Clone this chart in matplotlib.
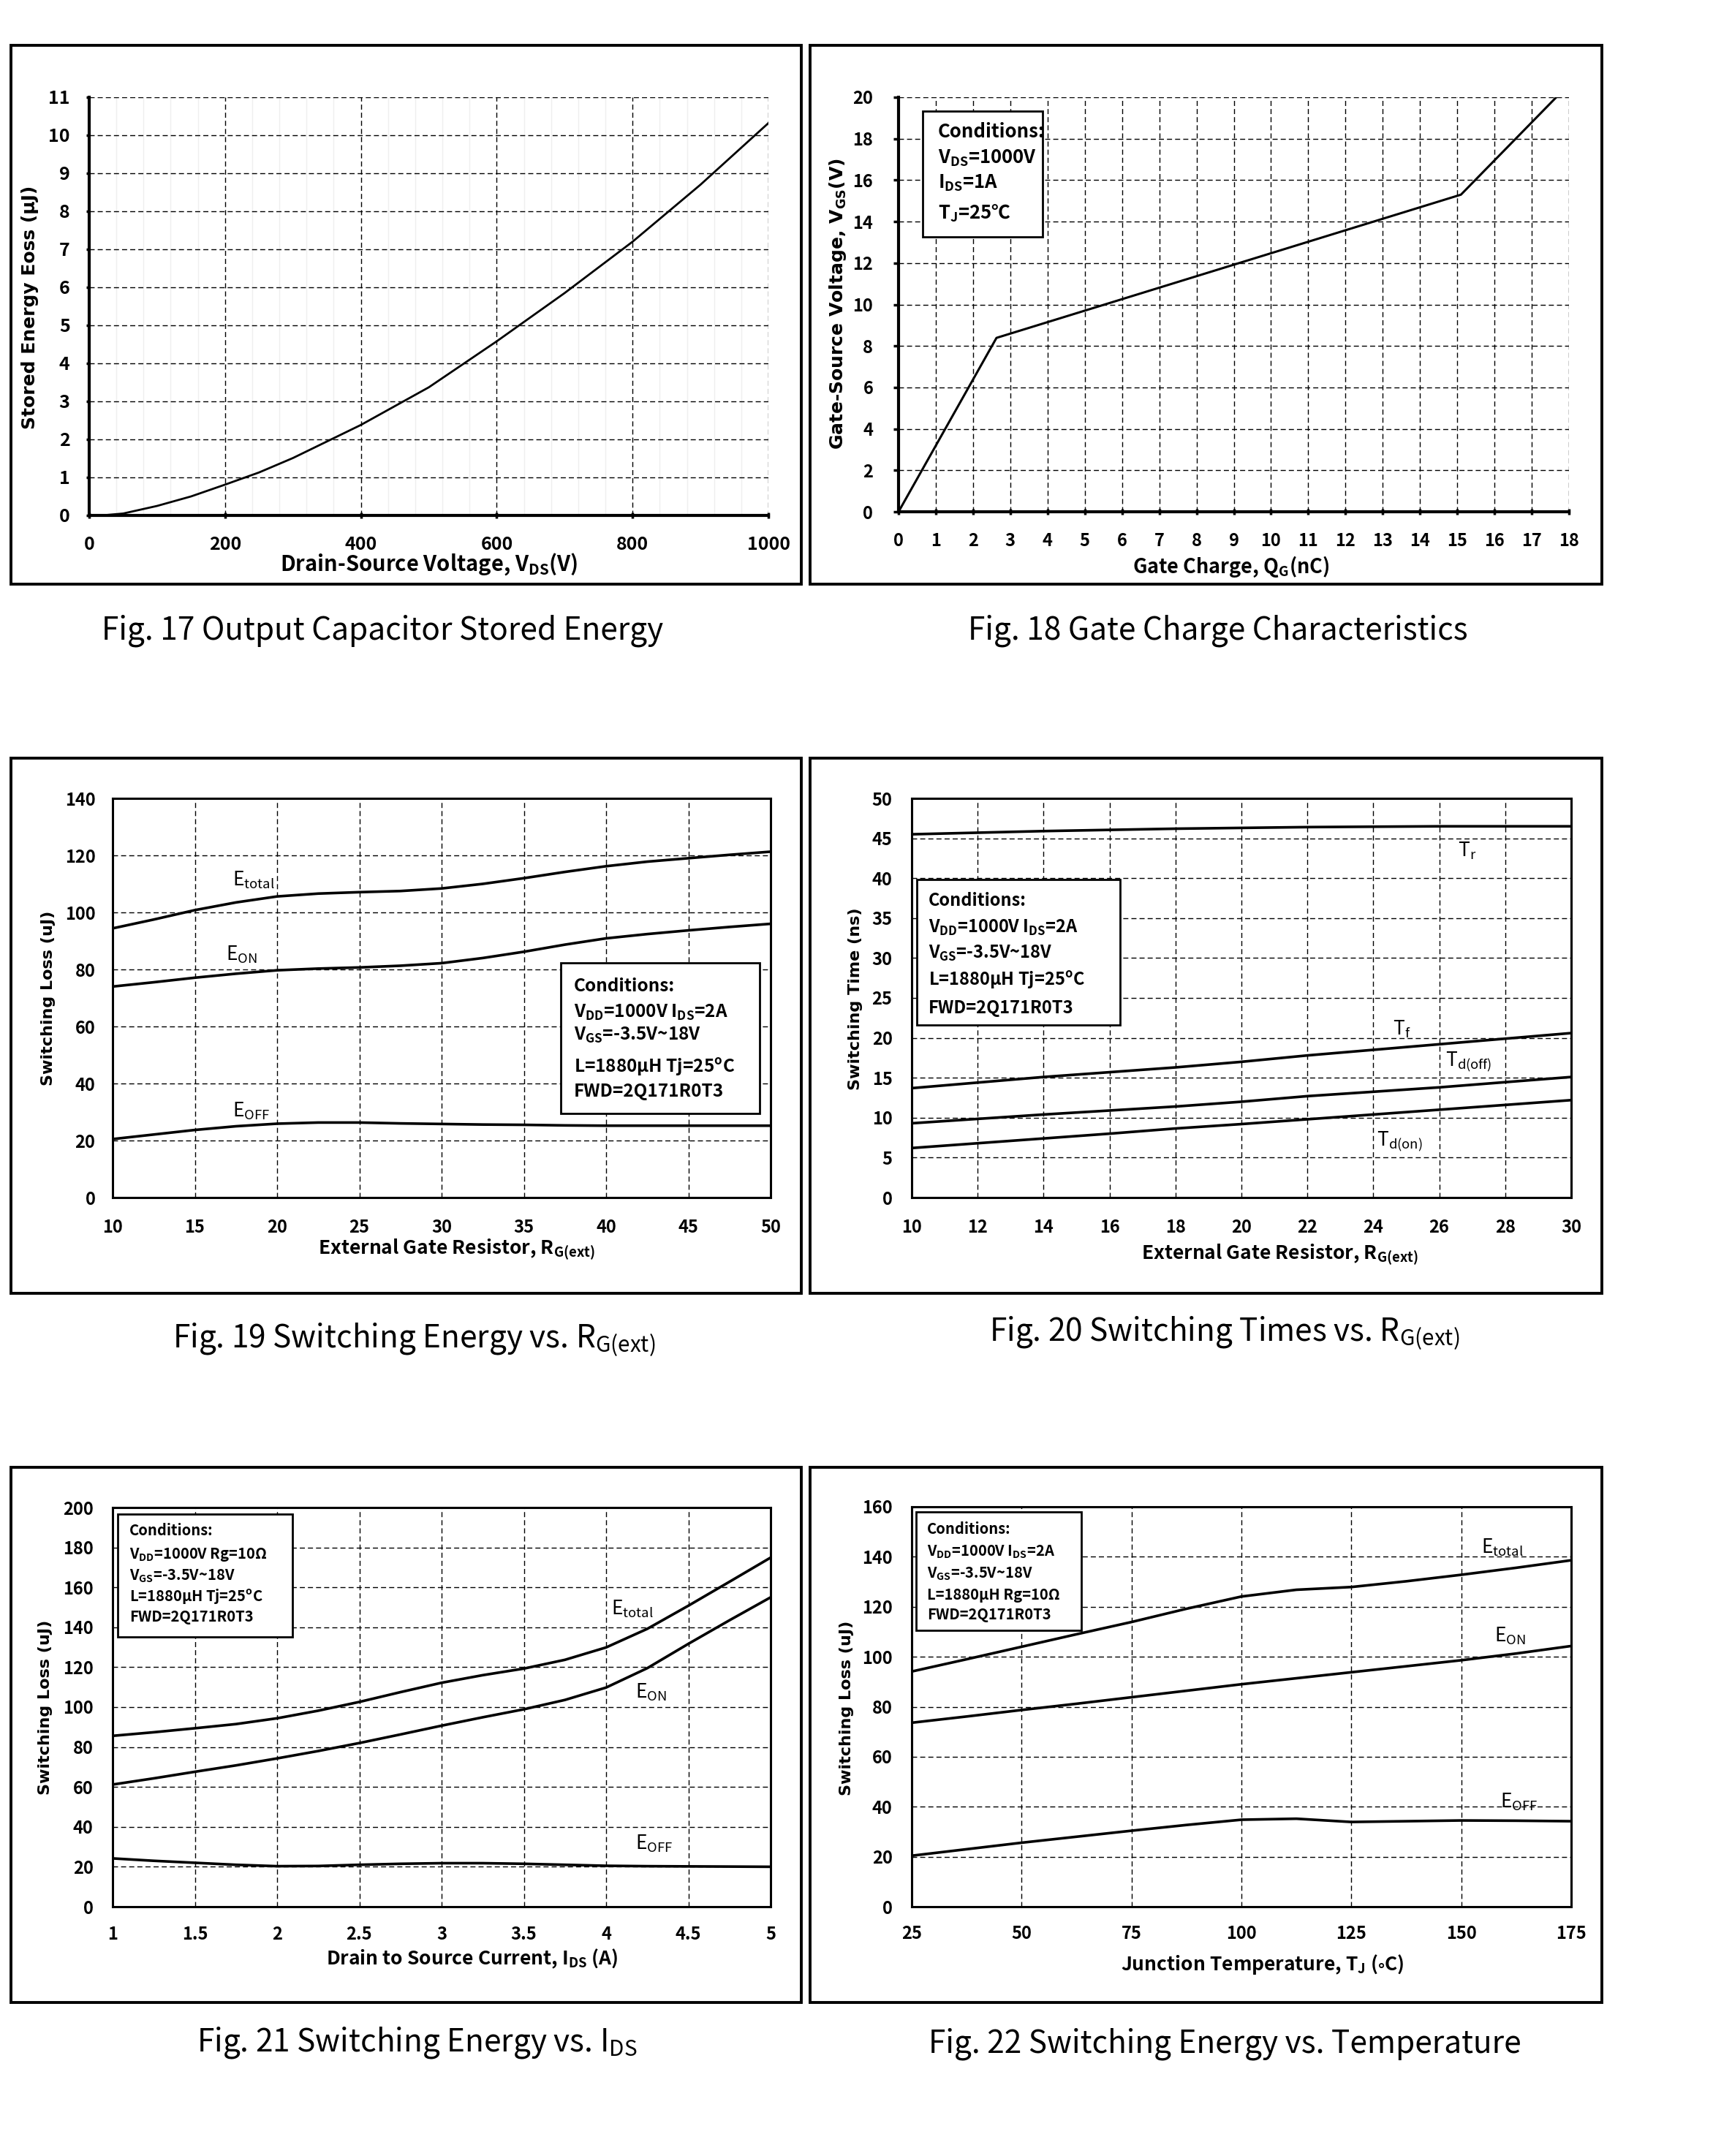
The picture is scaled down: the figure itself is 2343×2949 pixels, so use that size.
import matplotlib
matplotlib.use('Agg')
import matplotlib.pyplot as plt
from matplotlib.font_manager import FontProperties
from matplotlib.patches import Rectangle
import numpy as np

plt.rcParams['mathtext.default'] = 'regular'

W, H = 2343, 2949
SANS = ['Noto Sans CJK SC', 'DejaVu Sans']
WIDE = ['DejaVu Sans']

# ---- Fig. 17 : Eoss vs VDS ----
vds = [0, 25, 50, 100, 150, 200, 250, 300, 400, 500, 600, 700, 800, 900, 1000]
eoss = [0, 0.01, 0.05, 0.25, 0.5, 0.81, 1.13, 1.51, 2.38, 3.37, 4.58, 5.85, 7.2, 8.7, 10.32]
vds_ticks = [0, 200, 400, 600, 800, 1000]
eoss_ticks = list(range(0, 12))

# ---- Fig. 18 : gate charge ----
qg = [0, 2.63, 15.1, 17.66]
vgs = [0, 8.39, 15.3, 20]
qg_ticks = list(range(0, 19))
vgs_ticks = list(range(0, 21, 2))

# ---- Fig. 19 : switching energy vs Rg ----
rg = [10, 12.5, 15, 17.5, 20, 22.5, 25, 27.5, 30, 32.5, 35, 37.5, 40, 42.5, 45, 47.5, 50]
rg_etotal = [94.4, 97.5, 100.8, 103.5, 105.6, 106.6, 107.1, 107.5, 108.4, 110, 112, 114.2, 116.2, 117.8, 119, 120.2, 121.3]
rg_eon = [74, 75.5, 77.1, 78.5, 79.7, 80.3, 80.7, 81.3, 82.2, 84, 86.2, 88.7, 90.9, 92.4, 93.7, 94.9, 96]
rg_eoff = [20.5, 22.1, 23.7, 25, 25.9, 26.3, 26.3, 26, 25.8, 25.6, 25.5, 25.3, 25.2, 25.2, 25.2, 25.2, 25.2]
rg_ticks = list(range(10, 51, 5))
e19_ticks = list(range(0, 141, 20))

# ---- Fig. 20 : switching times vs Rg ----
rg_t = [10, 12, 14, 16, 18, 20, 22, 24, 26, 28, 30]
t_r = [45.5, 45.7, 45.9, 46.05, 46.2, 46.3, 46.4, 46.45, 46.5, 46.5, 46.5]
t_f = [13.7, 14.4, 15.1, 15.7, 16.3, 17.0, 17.8, 18.5, 19.2, 19.9, 20.6]
t_doff = [9.3, 9.85, 10.4, 10.9, 11.4, 12.0, 12.7, 13.25, 13.8, 14.45, 15.1]
t_don = [6.2, 6.8, 7.4, 8.0, 8.65, 9.2, 9.8, 10.4, 11.0, 11.6, 12.2]
rgt_ticks = list(range(10, 31, 2))
t_ticks = list(range(0, 51, 5))

# ---- Fig. 21 : switching energy vs IDS ----
ids = [1, 1.25, 1.5, 1.75, 2, 2.25, 2.5, 2.75, 3, 3.25, 3.5, 3.75, 4, 4.25, 4.5, 4.75, 5]
ids_etotal = [85.6, 87.4, 89.4, 91.5, 94.4, 98.2, 102.6, 107.5, 112.2, 116, 119.3, 123.7, 129.9, 139.2, 150.8, 162.8, 174.9]
ids_eon = [61.2, 64.3, 67.6, 70.8, 74.3, 78, 82, 86.3, 90.7, 94.9, 98.9, 103.6, 109.8, 119.5, 131.7, 143.5, 155]
ids_eoff = [24.2, 23.0, 22.0, 21.0, 20.3, 20.4, 21.0, 21.5, 21.8, 21.8, 21.5, 21.0, 20.5, 20.3, 20.2, 20.1, 20.0]
ids_ticks = [1, 1.5, 2, 2.5, 3, 3.5, 4, 4.5, 5]
e21_ticks = list(range(0, 201, 20))

# ---- Fig. 22 : switching energy vs Tj ----
tj = [25, 37.5, 50, 62.5, 75, 87.5, 100, 112.5, 125, 137.5, 150, 162.5, 175]
tj_etotal = [94.1, 99, 104, 109, 113.9, 119.2, 124.1, 126.8, 127.9, 130.2, 132.8, 135.6, 138.6]
tj_eon = [73.6, 76.1, 78.7, 81.2, 83.8, 86.4, 89, 91.4, 93.8, 96.2, 98.6, 101.3, 104.3]
tj_eoff = [20.4, 23.0, 25.6, 28.0, 30.4, 32.7, 34.8, 35.2, 33.9, 34.2, 34.5, 34.4, 34.2]
tj_ticks = list(range(25, 176, 25))
e22_ticks = list(range(0, 161, 20))

fig = plt.figure(figsize=(W / 100, H / 100), dpi=100)


def sub(s):
    return r'$_\mathregular{' + s + '}$'


def fp(size, family=SANS, weight='bold'):
    return FontProperties(family=family, weight=weight, size=size)


def add_axes_px(x0, y0, x1, y1):
    return fig.add_axes([x0 / W, 1 - y1 / H, (x1 - x0) / W, (y1 - y0) / H])


def ftext(x, y, s, size, family=SANS, weight='bold', rot=0, ha='center', va='center'):
    return fig.text(x / W, 1 - y / H, s, fontproperties=fp(size, family, weight),
                    rotation=rot, ha=ha, va=va, zorder=7)


def rect_px(x0, y0, x1, y1, lw, fill, z):
    r = Rectangle((x0 / W, 1 - y1 / H), (x1 - x0) / W, (y1 - y0) / H,
                  transform=fig.transFigure, fill=fill, fc='white', ec='black', lw=lw, zorder=z)
    fig.add_artist(r)


def cond_box(box, x, baselines, lines, size):
    rect_px(*box, lw=2.0, fill=True, z=5)
    for yb, s in zip(baselines, lines):
        ftext(x, yb, s, size, ha='left', va='baseline')


def ticks(ax, xt, yt, size, xpad, ypad):
    f = fp(size)
    ax.set_xticks(xt, [f'{v:g}' for v in xt], fontproperties=f)
    ax.set_yticks(yt, [f'{v:g}' for v in yt], fontproperties=f)
    ax.tick_params(axis='x', pad=xpad)
    ax.tick_params(axis='y', pad=ypad)


def grid(ax):
    ax.set_axisbelow(True)
    ax.grid(True, which='major', color='black', lw=1.0, ls=(0, (5, 3)))


def boxed_axes(ax):
    for sp in ax.spines.values():
        sp.set_linewidth(2.2)
    ax.tick_params(length=0)


def caption(x, y, s):
    ftext(x, y, s, 30.5, weight='medium')


# panel frames
for fr in [(15, 62, 1096, 799), (1108, 62, 2191, 799),
           (15, 1037, 1096, 1769), (1108, 1037, 2191, 1769),
           (15, 2007, 1096, 2739), (1108, 2007, 2191, 2739)]:
    rect_px(*fr, lw=2.8, fill=False, z=1)

lf = fp(19, weight='medium')

# ================= Fig. 17 =================
ax = add_axes_px(122, 133, 1051, 705)
ax.plot(vds, eoss, color='black', lw=2.0, zorder=3)
ax.set_xlim(0, 1000)
ax.set_ylim(0, 11)
ticks(ax, vds_ticks, eoss_ticks, 18, 17, 16)
ax.set_xticks(np.arange(0, 1001, 40), minor=True)
ax.grid(True, which='minor', axis='x', color='#efefef', lw=1.0)
grid(ax)
for s in ['top', 'right']:
    ax.spines[s].set_visible(False)
for s in ['left', 'bottom']:
    ax.spines[s].set_linewidth(3.0)
ax.tick_params(axis='y', direction='out', length=3, width=2.5)
ax.tick_params(axis='x', which='major', direction='inout', length=6, width=2.5)
ax.tick_params(which='minor', length=0)
ftext(41, 420, 'Stored Energy Eoss (μJ)', 18, family=WIDE, rot=90)
ftext(587, 772, 'Drain-Source Voltage, V' + sub('DS') + '(V)', 21)
caption(523, 863, 'Fig. 17 Output Capacitor Stored Energy')

# ================= Fig. 18 =================
ax = add_axes_px(1229, 133, 2146, 700)
ax.plot(qg, vgs, color='black', lw=2.2, zorder=3)
ax.set_xlim(0, 18)
ax.set_ylim(0, 20)
ticks(ax, qg_ticks, vgs_ticks, 17, 17, 20)
grid(ax)
for s in ['top', 'right']:
    ax.spines[s].set_visible(False)
for s in ['left', 'bottom']:
    ax.spines[s].set_linewidth(3.0)
ax.tick_params(axis='y', direction='out', length=5, width=2.5)
ax.tick_params(axis='x', direction='inout', length=6, width=2.5)
ftext(1146, 416, 'Gate-Source Voltage, V' + sub('GS') + '(V)', 18, family=WIDE, rot=90)
ftext(1684, 775, 'Gate Charge, Q' + sub('G') + '(nC)', 19.5)
cond_box((1262, 152, 1426, 324), 1283, [188, 223, 258, 299],
         ['Conditions:', 'V' + sub('DS') + '=1000V', 'I' + sub('DS') + '=1A', 'T' + sub('J') + '=25℃'], 18.5)
caption(1666, 863, 'Fig. 18 Gate Charge Characteristics')

# ================= Fig. 19 =================
ax = add_axes_px(154, 1092, 1054, 1638)
for yv in (rg_etotal, rg_eon, rg_eoff):
    ax.plot(rg, yv, color='black', lw=2.6, zorder=3)
ax.set_xlim(10, 50)
ax.set_ylim(0, 140)
ticks(ax, rg_ticks, e19_ticks, 17, 21, 17)
grid(ax)
boxed_axes(ax)
ax.text(17.3, 109.4, 'E' + sub('total'), fontproperties=lf, va='baseline')
ax.text(16.9, 83.3, 'E' + sub('ON'), fontproperties=lf, va='baseline')
ax.text(17.3, 28.4, 'E' + sub('OFF'), fontproperties=lf, va='baseline')
ftext(66, 1365, 'Switching Loss (uJ)', 16, family=WIDE, rot=90)
ftext(624, 1709, 'External Gate Resistor, R' + sub('G(ext)'), 19)
cond_box((767, 1317, 1039, 1523), 785, [1356, 1392, 1423, 1467, 1500],
         ['Conditions:', 'V' + sub('DD') + '=1000V I' + sub('DS') + '=2A',
          'V' + sub('GS') + '=-3.5V~18V', 'L=1880μH Tj=25$^\\mathregular{o}$C', 'FWD=2Q171R0T3'], 17.5)
caption(566, 1833, 'Fig. 19 Switching Energy vs. R' + sub('G(ext)'))

# ================= Fig. 20 =================
ax = add_axes_px(1247, 1092, 2149, 1638)
for yv in (t_r, t_f, t_doff, t_don):
    ax.plot(rg_t, yv, color='black', lw=2.6, zorder=3)
ax.set_xlim(10, 30)
ax.set_ylim(0, 50)
ticks(ax, rgt_ticks, t_ticks, 17, 21, 19)
grid(ax)
boxed_axes(ax)
ax.text(26.57, 42.7, 'T' + sub('r'), fontproperties=lf, va='baseline')
ax.text(24.59, 20.4, 'T' + sub('f'), fontproperties=lf, va='baseline')
ax.text(26.19, 16.5, 'T' + sub('d(off)'), fontproperties=lf, va='baseline')
ax.text(24.1, 6.5, 'T' + sub('d(on)'), fontproperties=lf, va='baseline')
ftext(1170, 1366, 'Switching Time (ns)', 16, family=WIDE, rot=90)
ftext(1750, 1716, 'External Gate Resistor, R' + sub('G(ext)'), 19)
cond_box((1254, 1203, 1532, 1402), 1270, [1239, 1276, 1311, 1348, 1386],
         ['Conditions:', 'V' + sub('DD') + '=1000V I' + sub('DS') + '=2A',
          'V' + sub('GS') + '=-3.5V~18V', 'L=1880μH Tj=25$^\\mathregular{o}$C', 'FWD=2Q171R0T3'], 17)
caption(1675, 1824, 'Fig. 20 Switching Times vs. R' + sub('G(ext)'))

# ================= Fig. 21 =================
ax = add_axes_px(154, 2062, 1054, 2608)
for yv in (ids_etotal, ids_eon, ids_eoff):
    ax.plot(ids, yv, color='black', lw=2.6, zorder=3)
ax.set_xlim(1, 5)
ax.set_ylim(0, 200)
ticks(ax, ids_ticks, e21_ticks, 17, 19, 19)
grid(ax)
boxed_axes(ax)
ax.text(4.03, 146.3, 'E' + sub('total'), fontproperties=lf, va='baseline')
ax.text(4.18, 104.4, 'E' + sub('ON'), fontproperties=lf, va='baseline')
ax.text(4.18, 28.8, 'E' + sub('OFF'), fontproperties=lf, va='baseline')
ftext(62, 2335, 'Switching Loss (uJ)', 16, family=WIDE, rot=90)
ftext(646, 2679, 'Drain to Source Current, I' + sub('DS') + ' (A)', 19)
cond_box((161, 2071, 400, 2239), 177, [2100, 2132, 2161, 2190, 2218],
         ['Conditions:', 'V' + sub('DD') + '=1000V Rg=10Ω',
          'V' + sub('GS') + '=-3.5V~18V', 'L=1880μH Tj=25$^\\mathregular{o}$C', 'FWD=2Q171R0T3'], 14.5)
caption(570, 2794, 'Fig. 21 Switching Energy vs. I' + sub('DS'))

# ================= Fig. 22 =================
ax = add_axes_px(1247, 2061, 2149, 2608)
for yv in (tj_etotal, tj_eon, tj_eoff):
    ax.plot(tj, yv, color='black', lw=2.6, zorder=3)
ax.set_xlim(25, 175)
ax.set_ylim(0, 160)
ticks(ax, tj_ticks, e22_ticks, 17, 18, 19)
grid(ax)
boxed_axes(ax)
ax.text(154.6, 141.5, 'E' + sub('total'), fontproperties=lf, va='baseline')
ax.text(157.5, 105.9, 'E' + sub('ON'), fontproperties=lf, va='baseline')
ax.text(158.9, 39.7, 'E' + sub('OFF'), fontproperties=lf, va='baseline')
ftext(1158, 2336, 'Switching Loss (uJ)', 16, family=WIDE, rot=90)
ftext(1727, 2687, 'Junction Temperature, T' + sub('J') + r' ($\circ$C)', 19)
cond_box((1253, 2068, 1479, 2230), 1268, [2098, 2128, 2158, 2188, 2215],
         ['Conditions:', 'V' + sub('DD') + '=1000V I' + sub('DS') + '=2A',
          'V' + sub('GS') + '=-3.5V~18V', 'L=1880μH Rg=10Ω', 'FWD=2Q171R0T3'], 14.5)
caption(1675, 2796, 'Fig. 22 Switching Energy vs. Temperature')

fig.savefig('out.png', dpi=100)
